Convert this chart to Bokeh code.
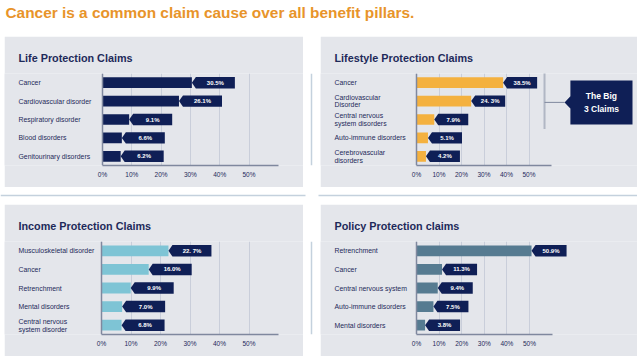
from bokeh.plotting import figure
from bokeh.models import Range1d, FactorRange, Span, FixedTicker, Title, Spacer
from bokeh.layouts import column, row
from bokeh.embed import file_html
from bokeh.resources import INLINE
from bokeh.core.properties import value

# ---------------- data ----------------
TITLE = "Cancer is a common claim cause over all benefit pillars."

LIFE_TITLE = "Life Protection Claims"
LIFE_CATS = ["Cancer", "Cardiovascular disorder", "Respiratory disorder",
             "Blood disorders", "Genitourinary disorders"]
LIFE_VALS = [30.5, 26.1, 9.1, 6.6, 6.2]
LIFE_LABELS = ["30.5%", "26.1%", "9.1%", "6.6%", "6.2%"]

LIFESTYLE_TITLE = "Lifestyle Protection Claims"
LIFESTYLE_CATS = ["Cancer", "Cardiovascular\nDisorder", "Central nervous\nsystem disorders",
                  "Auto-immune disorders", "Cerebrovascular\ndisorders"]
LIFESTYLE_VALS = [38.5, 24.3, 7.9, 5.1, 4.2]
LIFESTYLE_LABELS = ["38.5%", "24. 3%", "7.9%", "5.1%", "4.2%"]

INCOME_TITLE = "Income Protection Claims"
INCOME_CATS = ["Musculoskeletal disorder", "Cancer", "Retrenchment",
               "Mental disorders", "Central nervous\nsystem disorder"]
INCOME_VALS = [22.7, 16.0, 9.9, 7.0, 6.8]
INCOME_LABELS = ["22. 7%", "16.0%", "9.9%", "7.0%", "6.8%"]

POLICY_TITLE = "Policy Protection claims"
POLICY_CATS = ["Retrenchment", "Cancer", "Central nervous system",
               "Auto-immune disorders", "Mental disorders"]
POLICY_VALS = [50.9, 11.3, 9.4, 7.5, 3.8]
POLICY_LABELS = ["50.9%", "11.3%", "9.4%", "7.5%", "3.8%"]

TICKS = [0, 10, 20, 30, 40, 50]
TICK_LABELS = ["0%", "10%", "20%", "30%", "40%", "50%"]
AXIS_MAX = 60
BIG3_TEXT = "The Big\n3 Claims"
BIG3_COUNT = 3

# ---------------- styles ----------------
FONT = "Liberation Sans"
PANEL = "#E4E6EB"
NAVY = "#0F1F56"
TEXT = "#1E2A5A"
ORANGE = "#F4B13F"
LIGHT_BLUE = "#7EC4D5"
STEEL = "#567B91"
TITLE_ORANGE = "#E8942A"
GRID = "#C9CEDA"
AXIS = "#7F889E"
SEP = "#C4D1DD"

LEFT_PAD = 4
W_LEFT, W_RIGHT, GAP_W = 299, 317, 17
H_HEAD, H_TOP, H_GAP, H_BOT = 36, 151, 17, 152
TOTAL_W = LEFT_PAD + W_LEFT + GAP_W + W_RIGHT


def panel(title, cats, vals, labels, color, width, height, axis_px, ppu,
          top, bottom, standoff, callout_px):
    start = -axis_px / ppu
    end = start + width / ppu
    n = len(cats)
    ttl = Title(text=title, text_font=FONT, text_font_size="10.8px",
                text_font_style="bold", text_color=TEXT, align="left",
                offset=14, standoff=standoff)
    p = figure(width=width, height=height,
               x_range=Range1d(start, end),
               y_range=FactorRange(factors=list(reversed(cats)),
                                   range_padding=0, factor_padding=0),
               output_backend="svg", toolbar_location=None,
               y_axis_location=None, title=ttl,
               min_border_left=0, min_border_right=0,
               min_border_top=top, min_border_bottom=bottom,
               background_fill_color=PANEL, border_fill_color=PANEL,
               outline_line_color=None)

    # axes / grid
    ax = p.xaxis[0]
    ax.ticker = FixedTicker(ticks=TICKS)
    ax.major_label_overrides = dict(zip(TICKS, TICK_LABELS))
    ax.bounds = (0, AXIS_MAX)
    ax.axis_line_color = AXIS
    ax.axis_line_width = 1.5
    ax.major_tick_line_color = None
    ax.minor_tick_line_color = None
    ax.major_tick_out = 0
    ax.major_tick_in = 0
    ax.major_label_standoff = 5
    ax.major_label_text_font = FONT
    ax.major_label_text_font_size = "6.5px"
    ax.major_label_text_color = TEXT
    p.xgrid.grid_line_color = GRID
    p.xgrid.grid_line_width = 1
    p.ygrid.visible = False
    p.add_layout(Span(location=0, dimension="height", line_color=AXIS, line_width=1.5))

    # bars
    p.hbar(y=cats, left=0, right=vals, height=0.58, fill_color=color, line_color=None)

    # callouts (pentagon tags)
    tip_px = 4
    tip = tip_px / ppu
    w = callout_px / ppu
    h = 0.31
    yc = [n - 0.5 - i for i in range(n)]
    xs = [[v, v + tip, v + w, v + w, v + tip] for v in vals]
    ys = [[c, c + h, c + h, c - h, c - h] for c in yc]
    p.patches(xs, ys, fill_color=NAVY, line_color=None)
    p.text(x=vals, y=cats, text=labels, x_offset=tip_px + (callout_px - tip_px) / 2,
           text_align="center", text_baseline="middle", text_color="white",
           text_font=value(FONT), text_font_style="bold", text_font_size="6px")

    # category labels (left aligned)
    p.text(x=[start] * n, y=cats, text=cats, x_offset=14,
           text_align="left", text_baseline="middle", text_color=TEXT,
           text_font=value(FONT), text_font_size="6.9px", text_line_height=1.1)
    return p


# header
head = figure(width=TOTAL_W, height=H_HEAD,
              x_range=Range1d(0, TOTAL_W), y_range=Range1d(H_HEAD, 0),
              output_backend="svg", toolbar_location=None,
              x_axis_location=None, y_axis_location=None, min_border=0,
              outline_line_color=None, background_fill_color="white",
              border_fill_color="white")
head.grid.visible = False
head.text(x=[5], y=[12], text=[TITLE], text_align="left", text_baseline="middle",
          text_color=TITLE_ORANGE, text_font=value(FONT), text_font_style="bold",
          text_font_size="15.4px")

tl = panel(LIFE_TITLE, LIFE_CATS, LIFE_VALS, LIFE_LABELS, NAVY,
           W_LEFT, H_TOP, 98, 2.93, 37, 22, 20, 43)
tr = panel(LIFESTYLE_TITLE, LIFESTYLE_CATS, LIFESTYLE_VALS, LIFESTYLE_LABELS, ORANGE,
           W_RIGHT, H_TOP, 96, 2.25, 37, 22, 20, 34)
bl = panel(INCOME_TITLE, INCOME_CATS, INCOME_VALS, INCOME_LABELS, LIGHT_BLUE,
           W_LEFT, H_BOT, 97, 2.95, 37, 22, 19, 43)
br = panel(POLICY_TITLE, POLICY_CATS, POLICY_VALS, POLICY_LABELS, STEEL,
           W_RIGHT, H_BOT, 96, 2.26, 37, 22, 19, 35)

# "The Big 3 Claims" bracket + tag in the lifestyle panel
n = len(LIFESTYLE_CATS)
y_hi, y_lo = n, n - BIG3_COUNT
y_mid = (y_hi + y_lo) / 2 - 0.07
bx = 56.9
tr.segment(x0=[bx], y0=[y_hi], x1=[bx], y1=[y_lo], line_color=AXIS,
           line_width=2, line_dash="1 1")
box_tip, box_l, box_r = 65.8, 68.4, 96.0
box_top, box_bot = 4.62, 2.23
ph = 0.33
tr.segment(x0=[bx], y0=[y_mid], x1=[box_tip], y1=[y_mid], line_color=AXIS, line_width=1)
tr.patches([[box_tip, box_l, box_l, box_r, box_r, box_l, box_l]],
           [[y_mid, y_mid + ph, box_top, box_top, box_bot, box_bot, y_mid - ph]],
           fill_color=NAVY, line_color=None)
tr.text(x=[(box_l + box_r) / 2], y=[(box_top + box_bot) / 2], text=[BIG3_TEXT],
        text_align="center", text_baseline="middle", text_color="white",
        text_font=value(FONT), text_font_style="bold", text_font_size="8.5px",
        text_line_height=1.3)


def vgap(height):
    g = figure(width=GAP_W, height=height, x_range=Range1d(0, GAP_W),
               y_range=Range1d(0, height), output_backend="svg",
               toolbar_location=None, x_axis_location=None, y_axis_location=None,
               min_border=0, outline_line_color=None,
               background_fill_color="white", border_fill_color="white")
    g.grid.visible = False
    g.add_layout(Span(location=8, dimension="height", line_color=SEP, line_width=1.5))
    return g


hg = figure(width=TOTAL_W, height=H_GAP, x_range=Range1d(0, TOTAL_W),
            y_range=Range1d(H_GAP, 0), output_backend="svg",
            toolbar_location=None, x_axis_location=None, y_axis_location=None,
            min_border=0, outline_line_color=None,
            background_fill_color="white", border_fill_color="white")
hg.grid.visible = False
hg.segment(x0=[0, 318], y0=[8, 8], x1=[305, TOTAL_W], y1=[8, 8],
           line_color=SEP, line_width=1.5)

layout = column(head,
                row(Spacer(width=LEFT_PAD, height=H_TOP), tl, vgap(H_TOP), tr),
                hg,
                row(Spacer(width=LEFT_PAD, height=H_BOT), bl, vgap(H_BOT), br))

with open("out.html", "w") as f:
    f.write(file_html(layout, INLINE))
